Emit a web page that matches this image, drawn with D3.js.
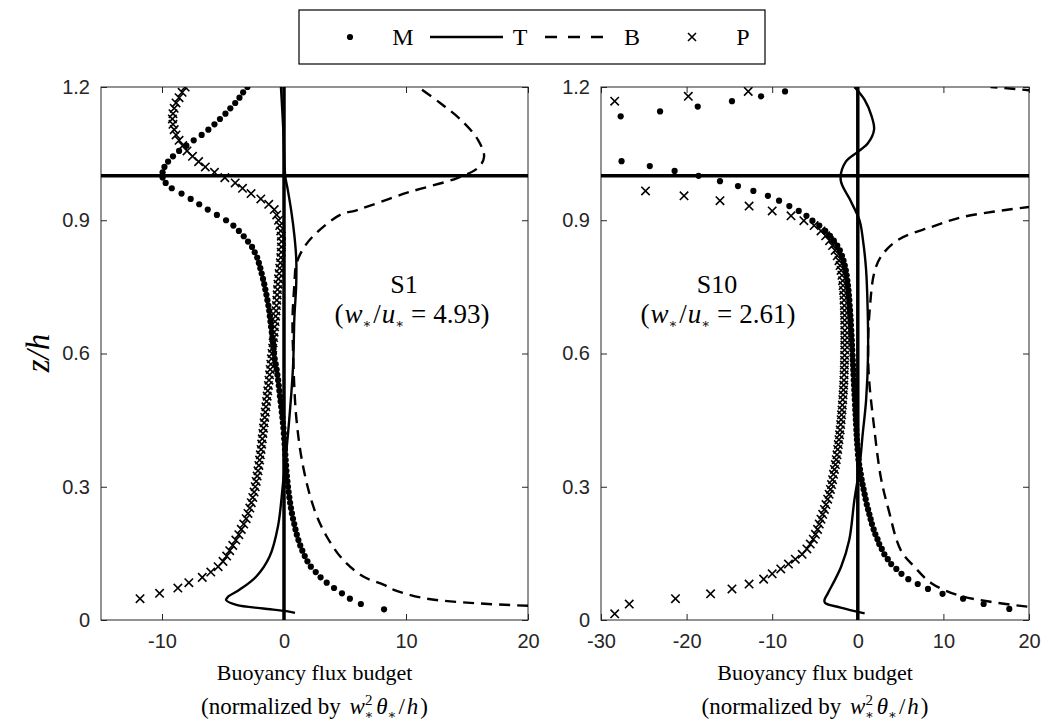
<!DOCTYPE html>
<html>
<head>
<meta charset="utf-8">
<title>Buoyancy flux budget</title>
<script src="https://d3js.org/d3.v7.min.js"></script>
<style>
  body { margin: 0; background: #fff; }
  .tick text { font-family: "Liberation Sans", Arial, sans-serif; font-size: 20px; fill: #262626; }
  .tick line { stroke: #262626; }
</style>
</head>
<body>
<svg width="1049" height="727"></svg>
<script>
// ---- S1 : markers on z levels ----
const s1Z = [0.012,0.024,0.036,0.048,0.060,0.072,0.084,0.096,0.108,0.120,
  0.132,0.144,0.156,0.168,0.180,0.192,0.204,0.216,0.228,0.240,
  0.252,0.264,0.276,0.288,0.300,0.312,0.324,0.336,0.348,0.360,
  0.372,0.384,0.396,0.408,0.420,0.432,0.444,0.456,0.468,0.480,
  0.492,0.504,0.516,0.528,0.540,0.552,0.564,0.576,0.588,0.600,
  0.612,0.624,0.636,0.648,0.660,0.672,0.684,0.696,0.708,0.720,
  0.732,0.744,0.756,0.768,0.780,0.792,0.804,0.816,0.828,0.840,
  0.852,0.864,0.876,0.888,0.900,0.912,0.924,0.936,0.948,0.960,
  0.972,0.984,0.996,1.008,1.020,1.032,1.044,1.056,1.068,1.080,
  1.092,1.104,1.116,1.128,1.140,1.152,1.164,1.176,1.188,1.200];
const s1M = [null,8.2,6.3,5.4,4.75,4.1,3.5,3.0,2.6,2.2,
  1.92,1.7,1.5,1.33,1.18,1.05,0.94,0.84,0.74,0.65,
  0.57,0.5,0.44,0.38,0.33,0.28,0.24,0.2,0.17,0.14,
  0.11,0.08,0.05,0.02,-0.01,-0.05,-0.09,-0.13,-0.18,-0.23,
  -0.28,-0.33,-0.38,-0.43,-0.48,-0.54,-0.6,-0.68,-0.76,-0.82,
  -0.86,-0.9,-0.95,-1.0,-1.06,-1.11,-1.16,-1.21,-1.28,-1.36,
  -1.44,-1.53,-1.62,-1.72,-1.83,-1.94,-2.06,-2.2,-2.4,-2.62,
  -2.95,-3.3,-3.7,-4.15,-4.75,-5.5,-6.25,-6.95,-7.65,-8.4,
  -9.2,-9.7,-9.95,-9.95,-9.8,-9.5,-9.1,-8.6,-8.0,-7.4,
  -6.75,-6.2,-5.7,-5.25,-4.8,-4.4,-4.0,-3.65,-3.35,-3.0];
const s1P = [null,null,null,-11.8,-10.2,-8.7,-7.8,-6.7,-6.0,-5.4,
  -5.0,-4.7,-4.45,-4.2,-3.95,-3.7,-3.5,-3.3,-3.1,-2.95,
  -2.8,-2.68,-2.56,-2.45,-2.36,-2.28,-2.2,-2.13,-2.06,-2.0,
  -1.94,-1.88,-1.83,-1.78,-1.73,-1.68,-1.63,-1.58,-1.53,-1.48,
  -1.43,-1.38,-1.33,-1.28,-1.23,-1.18,-1.13,-1.08,-1.03,-0.98,
  -0.93,-0.89,-0.85,-0.81,-0.77,-0.73,-0.69,-0.65,-0.62,-0.59,
  -0.56,-0.53,-0.5,-0.45,-0.4,-0.35,-0.3,-0.26,-0.23,-0.21,
  -0.2,-0.22,-0.27,-0.35,-0.45,-0.6,-0.8,-1.25,-1.9,-2.7,
  -3.4,-4.0,-4.85,-5.7,-6.45,-7.0,-7.5,-7.95,-8.3,-8.6,
  -8.85,-9.0,-9.1,-9.15,-9.1,-9.0,-8.85,-8.6,-8.35,-8.1];
// ---- S1 : lines ----
const s1TZ = [0.016,0.020,0.026,0.034,0.045,0.052,0.068,0.098,0.143,0.21,0.308,0.42,0.57,0.68,0.755,0.815,0.866,0.92,0.97,1.0,1.1,1.2];
const s1TX = [0.9,0.2,-1.7,-3.9,-4.75,-4.6,-3.65,-2.27,-1.18,-0.5,-0.08,0.33,0.74,0.85,1.0,1.0,0.85,0.6,0.3,0.1,-0.05,-0.25];
const s1BZ = [0.032,0.038,0.049,0.068,0.079,0.098,0.135,0.188,0.248,0.345,0.458,0.608,0.68,0.755,0.8,0.837,0.87,0.912,0.923,0.962,0.995,1.018,1.043,1.081,1.126,1.164,1.2];
const s1BX = [20,15.6,11.5,9.0,8.2,6.5,4.86,3.5,2.5,1.57,1.0,0.74,0.7,0.85,1.0,1.6,2.6,4.6,6.0,10.1,14.2,15.9,16.4,15.9,14.5,12.8,11.0];

// ---- S10 : markers on z levels ----
const s10Z = [0.014,0.025,0.036,0.048,0.059,0.070,0.081,0.092,0.104,0.115,
  0.126,0.137,0.148,0.160,0.171,0.182,0.193,0.204,0.216,0.227,
  0.238,0.249,0.260,0.272,0.283,0.294,0.305,0.316,0.328,0.339,
  0.350,0.361,0.372,0.384,0.395,0.406,0.417,0.428,0.440,0.451,
  0.462,0.473,0.484,0.496,0.507,0.518,0.529,0.540,0.552,0.563,
  0.574,0.585,0.596,0.608,0.619,0.630,0.641,0.652,0.664,0.675,
  0.686,0.697,0.708,0.720,0.731,0.742,0.753,0.764,0.776,0.787,
  0.798,0.809,0.820,0.832,0.843,0.854,0.865,0.876,0.888,0.899,
  0.910,0.921,0.932,0.944,0.955,0.966,0.977,0.988,1.000,1.011,
  1.022,1.033,1.044,1.056,1.067,1.078,1.089,1.100,1.112,1.123,
  1.134,1.145,1.156,1.168,1.179,1.190];
const s10M = [null,17.7,14.7,12.3,9.9,8.2,7.0,5.9,5.1,4.5,
  3.9,3.5,3.1,2.8,2.5,2.3,2.05,1.85,1.65,1.5,
  1.35,1.2,1.05,0.92,0.8,0.68,0.56,0.45,0.35,0.25,
  0.16,0.08,0.02,-0.02,-0.06,-0.1,-0.14,-0.17,-0.2,-0.23,
  -0.26,-0.29,-0.32,-0.35,-0.38,-0.41,-0.44,-0.47,-0.5,-0.53,
  -0.56,-0.59,-0.62,-0.65,-0.68,-0.71,-0.74,-0.77,-0.8,-0.83,
  -0.87,-0.91,-0.95,-0.99,-1.04,-1.09,-1.15,-1.22,-1.3,-1.4,
  -1.52,-1.67,-1.85,-2.1,-2.4,-2.8,-3.25,-3.8,-4.5,-5.3,
  -6.0,-6.9,-8.0,-9.2,-10.5,-12.2,-14.0,-16.1,-18.6,-21.4,
  -24.3,-27.6,null,null,null,null,null,null,null,null,
  -27.7,-23.1,-18.7,-14.7,-11.3,-8.5];
const s10P = [-28.4,null,-26.7,-21.3,-17.2,-14.7,-12.7,-11.0,-10.0,-9.0,
  -8.1,-7.3,-6.5,-5.95,-5.55,-5.2,-4.95,-4.7,-4.5,-4.3,
  -4.1,-3.9,-3.72,-3.52,-3.35,-3.2,-3.07,-2.95,-2.84,-2.73,
  -2.62,-2.52,-2.43,-2.35,-2.28,-2.2,-2.13,-2.06,-2.0,-1.95,
  -1.9,-1.85,-1.8,-1.76,-1.72,-1.68,-1.65,-1.62,-1.6,-1.58,
  -1.56,-1.55,-1.54,-1.53,-1.52,-1.52,-1.52,-1.52,-1.52,-1.53,
  -1.54,-1.55,-1.57,-1.6,-1.63,-1.67,-1.72,-1.78,-1.85,-1.95,
  -2.07,-2.2,-2.4,-2.65,-2.95,-3.3,-3.75,-4.3,-5.1,-6.3,
  -7.8,-10.0,-12.7,-16.1,-20.3,-24.8,null,null,null,null,
  null,null,null,null,null,null,null,null,null,null,
  null,null,null,-28.4,-19.8,-12.8];
// ---- S10 : lines ----
const s10TZ = [0.015,0.028,0.038,0.045,0.06,0.12,0.18,0.27,0.345,0.42,0.495,0.6,0.7,0.788,0.856,0.9,0.946,0.991,1.032,1.054,1.074,1.104,1.135,1.171,1.2];
const s10TX = [0.8,-2.0,-3.8,-3.9,-3.5,-1.95,-1.0,-0.4,0.2,0.58,0.97,1.2,1.15,0.97,0.6,0.2,-0.9,-2.0,-1.4,0.0,1.2,1.9,1.6,0.8,-0.4];
const s10BZ = [0.03,0.041,0.056,0.083,0.12,0.158,0.248,0.32,0.435,0.547,0.624,0.7,0.78,0.818,0.856,0.885,0.908,0.93,null,1.192,1.2];
const s10BX = [19.8,15.5,11.7,8.6,6.6,5.0,3.6,2.7,1.9,1.3,1.2,1.4,1.9,2.7,4.7,8.6,12.4,20.0,null,20.5,15.5];

const legendKeys = ['M', 'T', 'B', 'P'];
const zTicks = [0, 0.3, 0.6, 0.9, 1.2];

const SERIF = '"Liberation Serif", "DejaVu Serif", serif';
const svg = d3.select('svg');
const z = d3.scaleLinear().domain([0, 1.2]).range([620, 87]);

const panels = [
  { id: 's1', x0: 101, x1: 528, domain: [-15, 20], ticks: [-10, 0, 10, 20],
    zs: s1Z, M: s1M, P: s1P, TZ: s1TZ, TX: s1TX, BZ: s1BZ, BX: s1BX,
    name: 'S1', ratio: '4.93', nameX: 404, ratioX: 412 },
  { id: 's10', x0: 601, x1: 1029, domain: [-30, 20], ticks: [-30, -20, -10, 0, 10, 20],
    zs: s10Z, M: s10M, P: s10P, TZ: s10TZ, TX: s10TX, BZ: s10BZ, BX: s10BX,
    name: 'S10', ratio: '2.61', nameX: 717, ratioX: 718 }
];

function cross(sel, s) {
  sel.append('path')
    .attr('d', `M${-s},${-s}L${s},${s}M${-s},${s}L${s},${-s}`)
    .attr('stroke', '#000').attr('stroke-width', 1.6).attr('fill', 'none');
}

function serifText(g, x, y, size) {
  return g.append('text').attr('x', x).attr('y', y)
    .attr('text-anchor', 'middle').attr('font-family', SERIF)
    .attr('font-size', size).attr('fill', '#000');
}

// ratio text: (w*/u* = x.xx)
function ratioText(g, x, y, val) {
  const t = serifText(g, x, y, 27);
  t.append('tspan').text('(');
  t.append('tspan').attr('font-style', 'italic').attr('dx', 1).text('w');
  t.append('tspan').attr('font-size', 13).attr('dy', 5).text('\u2217');
  t.append('tspan').attr('dy', -5).attr('dx', 2).text('/');
  t.append('tspan').attr('font-style', 'italic').attr('dx', 1).text('u');
  t.append('tspan').attr('font-size', 13).attr('dy', 5).text('\u2217');
  t.append('tspan').attr('dy', -5).attr('dx', 7).text('=');
  t.append('tspan').attr('dx', 7).text(val + ')');
}

panels.forEach(p => {
  const x = d3.scaleLinear().domain(p.domain).range([p.x0, p.x1]);
  const g = svg.append('g');

  svg.append('clipPath').attr('id', 'clip-' + p.id)
    .append('rect').attr('x', p.x0).attr('y', 87)
    .attr('width', p.x1 - p.x0).attr('height', 533);

  // axes (ticks pointing inward)
  g.append('g').attr('transform', 'translate(0,620)')
    .call(d3.axisBottom(x).tickValues(p.ticks).tickSize(-6).tickPadding(14).tickFormat(d => String(d)))
    .call(a => a.select('.domain').remove());
  g.append('g').attr('transform', 'translate(0,87)')
    .call(d3.axisTop(x).tickValues(p.ticks).tickSize(-6).tickFormat(''))
    .call(a => a.select('.domain').remove());
  g.append('g').attr('transform', `translate(${p.x0},0)`)
    .call(d3.axisLeft(z).tickValues(zTicks).tickSize(-6).tickPadding(11).tickFormat(d => d === 0 ? '0' : d.toFixed(1)))
    .call(a => a.select('.domain').remove());
  g.append('g').attr('transform', `translate(${p.x1},0)`)
    .call(d3.axisRight(z).tickValues(zTicks).tickSize(-6).tickFormat(''))
    .call(a => a.select('.domain').remove());
  g.append('rect').attr('x', p.x0).attr('y', 87)
    .attr('width', p.x1 - p.x0).attr('height', 533)
    .attr('fill', 'none').attr('stroke', '#262626').attr('stroke-width', 1);

  const plot = g.append('g').attr('clip-path', `url(#clip-${p.id})`);
  const line = d3.line()
    .defined(d => d[0] != null)
    .x(d => x(d[0])).y(d => z(d[1]))
    .curve(d3.curveCatmullRom.alpha(0.5));

  // T: solid
  plot.append('path').datum(p.TX.map((v, i) => [v, p.TZ[i]]))
    .attr('d', line).attr('fill', 'none').attr('stroke', '#000').attr('stroke-width', 2.4);
  // B: dashed
  plot.append('path').datum(p.BX.map((v, i) => [v, p.BZ[i]]))
    .attr('d', line).attr('fill', 'none').attr('stroke', '#000').attr('stroke-width', 2.4)
    .attr('stroke-dasharray', '11,7');

  const inDomain = v => v != null && v >= p.domain[0] && v <= p.domain[1];
  // M: dots
  plot.append('g').selectAll('circle')
    .data(p.M.map((v, i) => [v, p.zs[i]]).filter(d => inDomain(d[0])))
    .join('circle')
    .attr('cx', d => x(d[0])).attr('cy', d => z(d[1])).attr('r', 3.1).attr('fill', '#000');
  // P: crosses
  plot.append('g').selectAll('g')
    .data(p.P.map((v, i) => [v, p.zs[i]]).filter(d => inDomain(d[0])))
    .join('g')
    .attr('transform', d => `translate(${x(d[0])},${z(d[1])})`)
    .each(function() { cross(d3.select(this), 4.2); });

  // reference lines x = 0 and z/h = 1
  g.append('line').attr('x1', x(0)).attr('x2', x(0)).attr('y1', 87).attr('y2', 620)
    .attr('stroke', '#000').attr('stroke-width', 3.5);
  g.append('line').attr('x1', p.x0).attr('x2', p.x1).attr('y1', z(1)).attr('y2', z(1))
    .attr('stroke', '#000').attr('stroke-width', 3.5);

  // case annotation
  serifText(g, p.nameX, 293, 26).text(p.name);
  ratioText(g, p.ratioX, 323, p.ratio);

  // x label, two lines
  const cx = (p.x0 + p.x1) / 2;
  serifText(g, cx, 680, 22).text('Buoyancy flux budget');
  const t2 = serifText(g, cx, 714, 23);
  t2.append('tspan').text('(normalized by ');
  t2.append('tspan').attr('font-style', 'italic').attr('dx', 3).text('w');
  t2.append('tspan').attr('font-size', 15).attr('dy', -9).text('2');
  t2.append('tspan').attr('font-size', 13).attr('dx', -8).attr('dy', 14).text('\u2217');
  t2.append('tspan').attr('font-style', 'italic').attr('dx', 3).attr('dy', -5).text('\u03b8');
  t2.append('tspan').attr('font-size', 13).attr('dy', 5).text('\u2217');
  t2.append('tspan').attr('dx', 2).attr('dy', -5).text('/');
  t2.append('tspan').attr('font-style', 'italic').attr('dx', 2).text('h');
  t2.append('tspan').attr('dx', 2).text(')');
});

// y label
serifText(svg, 0, 0, 33)
  .attr('transform', 'translate(49,353) rotate(-90)')
  .attr('font-style', 'italic')
  .text('z/h');

// legend
const lg = svg.append('g');
lg.append('rect').attr('x', 299).attr('y', 10).attr('width', 466).attr('height', 54)
  .attr('fill', '#fff').attr('stroke', '#000').attr('stroke-width', 1.2);
const legendLabelX = [403, 520, 632, 743];
legendKeys.forEach((k, i) => serifText(lg, legendLabelX[i], 45, 24).text(k));
lg.append('circle').attr('cx', 350).attr('cy', 37).attr('r', 3.1).attr('fill', '#000');
lg.append('line').attr('x1', 430).attr('x2', 503).attr('y1', 37).attr('y2', 37)
  .attr('stroke', '#000').attr('stroke-width', 2.4);
lg.append('line').attr('x1', 545).attr('x2', 606).attr('y1', 37).attr('y2', 37)
  .attr('stroke', '#000').attr('stroke-width', 2.4).attr('stroke-dasharray', '12,11');
lg.append('g').attr('transform', 'translate(692,37)').call(s => cross(s, 4));
</script>
</body>
</html>
